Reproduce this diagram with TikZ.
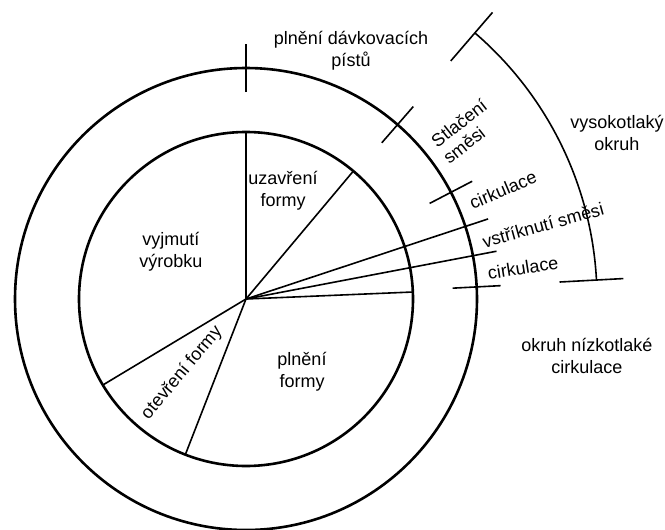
\documentclass[tikz,border=0pt]{standalone}
\usepackage{fontspec}
\setmainfont{Liberation Sans}
\begin{document}
\begin{tikzpicture}[x=1pt,y=1pt,
  ring/.style={line width=2.6pt},
  seg/.style={line width=1.6pt},
  tick/.style={line width=1.6pt},
  lbl/.style={font=\fontsize{18}{22}\selectfont, align=center, inner sep=0pt}]
\useasboundingbox (0,0) rectangle (665,-530);
\coordinate (c) at (246,-299);
\begin{scope}[shift={(c)}]
  \coordinate (o) at (0,0);
  % circles
  \draw[ring] (o) circle (167);
  \draw[ring] (o) circle (231);
  % sector lines
  \draw[seg] (o) -- (90:167);
  \draw[seg] (o) -- (50:167);
  \draw[seg] (o) -- (18.3:255);
  \draw[seg] (o) -- (10.8:255);
  \draw[seg] (o) -- (2.4:167);
  \draw[seg] (o) -- (211:167);
  \draw[seg] (o) -- (248.7:167);
  % ticks on outer ring
  \foreach \a in {90,49,27.5,3} \draw[tick] (\a:207) -- (\a:255);
  % high-pressure arc
  \draw[seg] (3.1:351) arc[start angle=3.1, end angle=49.3, radius=351];
  \draw[tick] (49.3:314) -- (49.3:378);
  \draw[tick] (3.1:314) -- (3.1:378);
\end{scope}
% labels
\node[lbl] (l1) at (351,-51) {plnění dávkovacích\\pístů};
\node[lbl, rotate=38] (l2a) at (459,-123) {Stlačení};
\node[lbl, rotate=38] (l2b) at (464,-145) {směsi};
\node[lbl] (l3) at (617,-133) {vysokotlaký\\okruh};
\node[lbl, rotate=23] (l4) at (503,-190) {cirkulace};
\node[lbl, rotate=15.5] (l5) at (543,-225) {vstříknutí směsi};
\node[lbl, rotate=9] (l6) at (523,-268) {cirkulace};
\node[lbl] (l7) at (587,-356) {okruh nízkotlaké\\cirkulace};
\node[lbl] (l8) at (283,-191) {uzavření\\formy};
\node[lbl] (l9) at (171,-252) {vyjmutí\\výrobku};
\node[lbl, rotate=50] (l10) at (182,-373) {otevření formy};
\node[lbl] (l11) at (302,-372) {plnění\\formy};
\end{tikzpicture}
\end{document}
